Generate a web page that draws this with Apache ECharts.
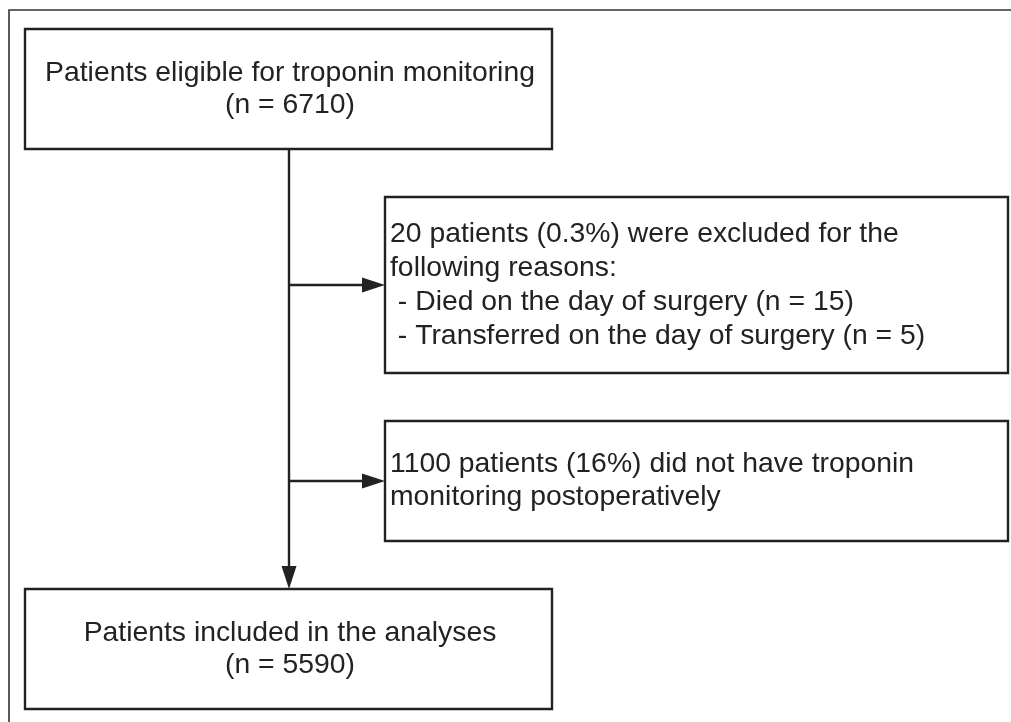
<!DOCTYPE html>
<html>
<head>
<meta charset="utf-8">
<style>
  html, body { margin: 0; padding: 0; background: #ffffff; }
  #chart { width: 1011px; height: 722px; }
</style>
<script src="https://cdn.jsdelivr.net/npm/echarts@6/dist/echarts.min.js"></script>
</head>
<body>
<div id="chart"></div>
<script>
const eligibleN = 6710;
const excludedN = 20;
const excludedPct = '0.3%';
const diedN = 15;
const transferredN = 5;
const noMonitorN = 1100;
const noMonitorPct = '16%';
const includedN = 5590;

// ---- text lines per box ----
const box1Lines = ['Patients eligible for troponin monitoring', '(n = ' + eligibleN + ')'];
const box2Lines = [
  excludedN + ' patients (' + excludedPct + ') were excluded for the',
  'following reasons:',
  ' - Died on the day of surgery (n = ' + diedN + ')',
  ' - Transferred on the day of surgery (n = ' + transferredN + ')'
];
const box3Lines = [noMonitorN + ' patients (' + noMonitorPct + ') did not have troponin', 'monitoring postoperatively'];
const box4Lines = ['Patients included in the analyses', '(n = ' + includedN + ')'];
const boxTexts = [box1Lines, box2Lines, box3Lines, box4Lines];

// ---- layout (pixel-space coordinates on hidden axes) ----
const boxRects = [[25, 29, 552, 149], [385, 197, 1008, 373], [385, 421, 1008, 541], [25, 589, 552, 709]];
const boxAlign = ['center', 'left', 'left', 'center'];
const boxTextX = [290, 390, 390, 290];
const boxFirstLine = [73, 234.5, 464, 633];
const boxLineGap = [32, 34, 33.5, 32];

const trunk = [289, 149, 589];           // x, yStart, yEnd (arrow tip)
const branches = [[285, 289, 385], [481, 289, 385]]; // y, xStart, xEnd (arrow tip)

const INK = '#222222';
const FONT = '28px "Liberation Sans", Arial, Helvetica, sans-serif';
const TEXT_SCALE_X = 1.012;

const chart = echarts.init(document.getElementById('chart'), null, { renderer: 'canvas' });

function boxItem(params, api) {
  const i = params.dataIndex;
  const r = boxRects[i];
  const p0 = api.coord([r[0], r[1]]);
  const p1 = api.coord([r[2], r[3]]);
  const children = [{
    type: 'rect',
    shape: { x: p0[0], y: p0[1], width: p1[0] - p0[0], height: p1[1] - p0[1] },
    style: { fill: '#ffffff', stroke: '#222222', lineWidth: 2.4 }
  }];
  boxTexts[i].forEach(function (t, k) {
    const pt = api.coord([boxTextX[i], boxFirstLine[i] + k * boxLineGap[i]]);
    children.push({
      type: 'text',
      x: pt[0], y: pt[1], scaleX: TEXT_SCALE_X,
      style: {
        x: 0, y: 0, text: t, font: FONT, fill: INK,
        align: boxAlign[i], verticalAlign: 'middle'
      }
    });
  });
  return { type: 'group', children: children };
}

function connectorItem(params, api) {
  const children = [];
  const headL = 23, headW = 7.5;
  // trunk
  const a = api.coord([trunk[0], trunk[1]]);
  const b = api.coord([trunk[0], trunk[2]]);
  children.push({ type: 'line', shape: { x1: a[0], y1: a[1], x2: b[0], y2: b[1] - headL + 2 },
    style: { stroke: INK, lineWidth: 2.4 } });
  children.push({ type: 'polygon', shape: { points: [[b[0] - headW, b[1] - headL], [b[0] + headW, b[1] - headL], [b[0], b[1]]] },
    style: { fill: INK } });
  branches.forEach(function (br) {
    const s = api.coord([br[1], br[0]]);
    const e = api.coord([br[2], br[0]]);
    children.push({ type: 'line', shape: { x1: s[0], y1: s[1], x2: e[0] - headL + 2, y2: e[1] },
      style: { stroke: INK, lineWidth: 2.4 } });
    children.push({ type: 'polygon', shape: { points: [[e[0] - headL, e[1] - headW], [e[0] - headL, e[1] + headW], [e[0], e[1]]] },
      style: { fill: INK } });
  });
  // outer frame (left and top edges)
  const f0 = api.coord([9, 722]);
  const f1 = api.coord([9, 10]);
  const f2 = api.coord([1011, 10]);
  children.push({ type: 'polyline', shape: { points: [f0, f1, f2] },
    style: { stroke: '#333333', lineWidth: 1.6, fill: null } });
  return { type: 'group', children: children };
}

chart.setOption({
  backgroundColor: '#ffffff',
  animation: false,
  grid: { left: 0, right: 0, top: 0, bottom: 0 },
  xAxis: { type: 'value', min: 0, max: 1011, show: false },
  yAxis: { type: 'value', min: 0, max: 722, inverse: true, show: false },
  series: [
    { type: 'custom', renderItem: connectorItem, data: [0], silent: true, z: 1 },
    { type: 'custom', renderItem: boxItem, data: [0, 1, 2, 3], silent: true, z: 2 }
  ]
});
</script>
</body>
</html>
